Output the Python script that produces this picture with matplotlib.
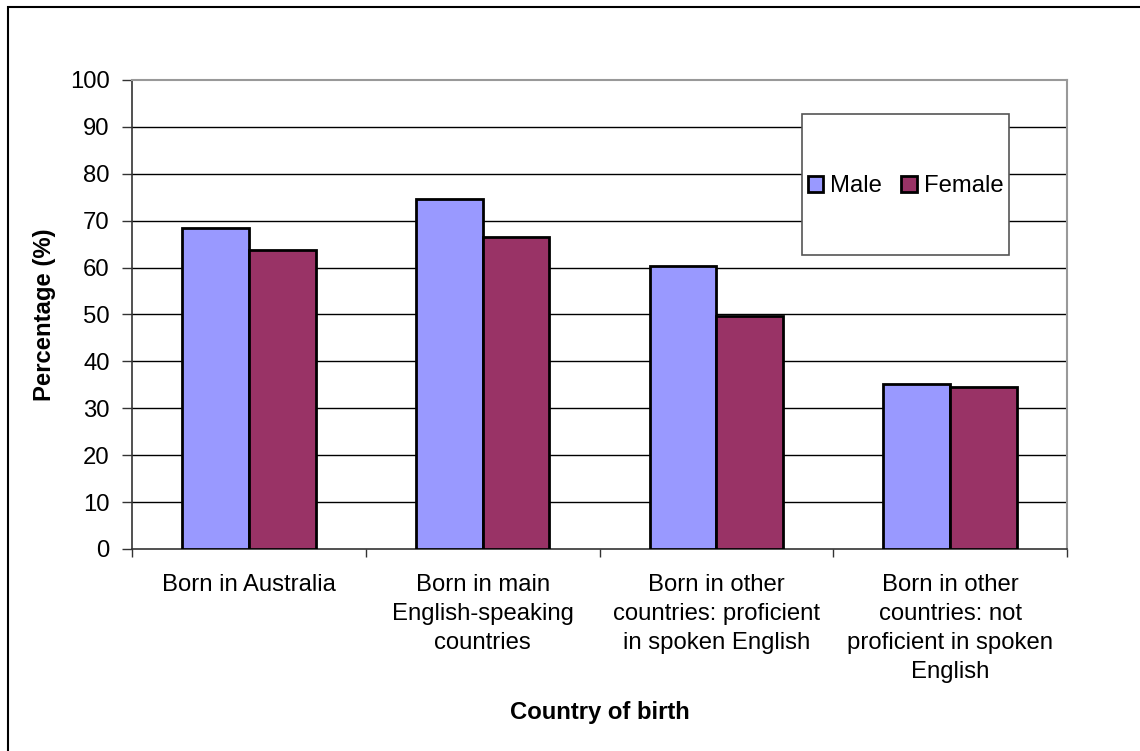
import numpy as np
import matplotlib
matplotlib.use("Agg")
import matplotlib.pyplot as plt
from matplotlib.patches import Rectangle

# ── data ──────────────────────────────────────────────────────────────────────
categories = [
    "Born in Australia",
    "Born in main\nEnglish-speaking\ncountries",
    "Born in other\ncountries: proficient\nin spoken English",
    "Born in other\ncountries: not\nproficient in spoken\nEnglish",
]
male = [68.5, 74.6, 60.3, 35.2]
female = [63.7, 66.5, 49.7, 34.6]
yticks = list(range(0, 101, 10))

MALE_C = "#9999FF"
FEMALE_C = "#993366"
FS = 17.2

plt.rcParams["font.family"] = ["Liberation Sans", "DejaVu Sans"]

fig = plt.figure(figsize=(11.4, 7.51), dpi=100)
ax = fig.add_axes([0.1158, 0.2690, 0.8202, 0.6245])

x = np.arange(len(categories))
w = 1 / 3.5  # excel-style gap width 150%
ax.bar(x - w / 2, male, w, color=MALE_C, edgecolor="black", linewidth=2, label="Male", zorder=3)
ax.bar(x + w / 2, female, w, color=FEMALE_C, edgecolor="black", linewidth=2, label="Female", zorder=3)

ax.set_xlim(-0.5, len(categories) - 0.5)
ax.set_ylim(0, 100)
ax.set_yticks(yticks)
ax.tick_params(axis="y", labelsize=FS, length=7, width=1, pad=9, color="#333333")
for yv in yticks[1:-1]:
    ax.axhline(yv, color="black", linewidth=1, zorder=1)

# category boundaries carry the ticks, labels sit between them
ax.set_xticks(np.arange(-0.5, len(categories), 1.0))
ax.set_xticklabels([])
ax.tick_params(axis="x", which="major", length=6, width=1, color="#333333")
ax.set_xticks(x, minor=True)
ax.set_xticklabels(categories, minor=True, fontsize=FS, linespacing=1.42, va="top")
ax.tick_params(axis="x", which="minor", length=0, pad=18)

for side in ("left", "bottom"):
    ax.spines[side].set_color("#333333")
    ax.spines[side].set_linewidth(1.2)
for side in ("top", "right"):
    ax.spines[side].set_color("#999999")
    ax.spines[side].set_linewidth(1.5)

# axis titles
fig.text(45 / 1140, 1 - 315 / 751, "Percentage (%)", fontsize=FS, fontweight="bold",
         rotation=90, ha="center", va="center")
fig.text(600 / 1140, 1 - 713 / 751, "Country of birth", fontsize=FS, fontweight="bold",
         ha="center", va="center")

# legend sits inside its own framed box
ax.add_patch(Rectangle((0.7166, 0.627), 0.2214, 0.3005, transform=ax.transAxes,
                       facecolor="white", edgecolor="#555555", linewidth=1.2, zorder=4))
leg = ax.legend(loc="center", bbox_to_anchor=(0.8273, 0.7733), ncol=2, frameon=False,
                fontsize=FS, handlelength=0.65, handleheight=0.65, handletextpad=0.3,
                columnspacing=0.8, borderaxespad=0)
leg.set_zorder(5)

# chart area outline (left and top edges show)
fig.add_artist(Rectangle((8 / 1140, -0.1), 1.2, 1 - 7 / 751 + 0.1, transform=fig.transFigure,
                         facecolor="none", edgecolor="black", linewidth=1.5))

fig.savefig("out.png", dpi=100)
